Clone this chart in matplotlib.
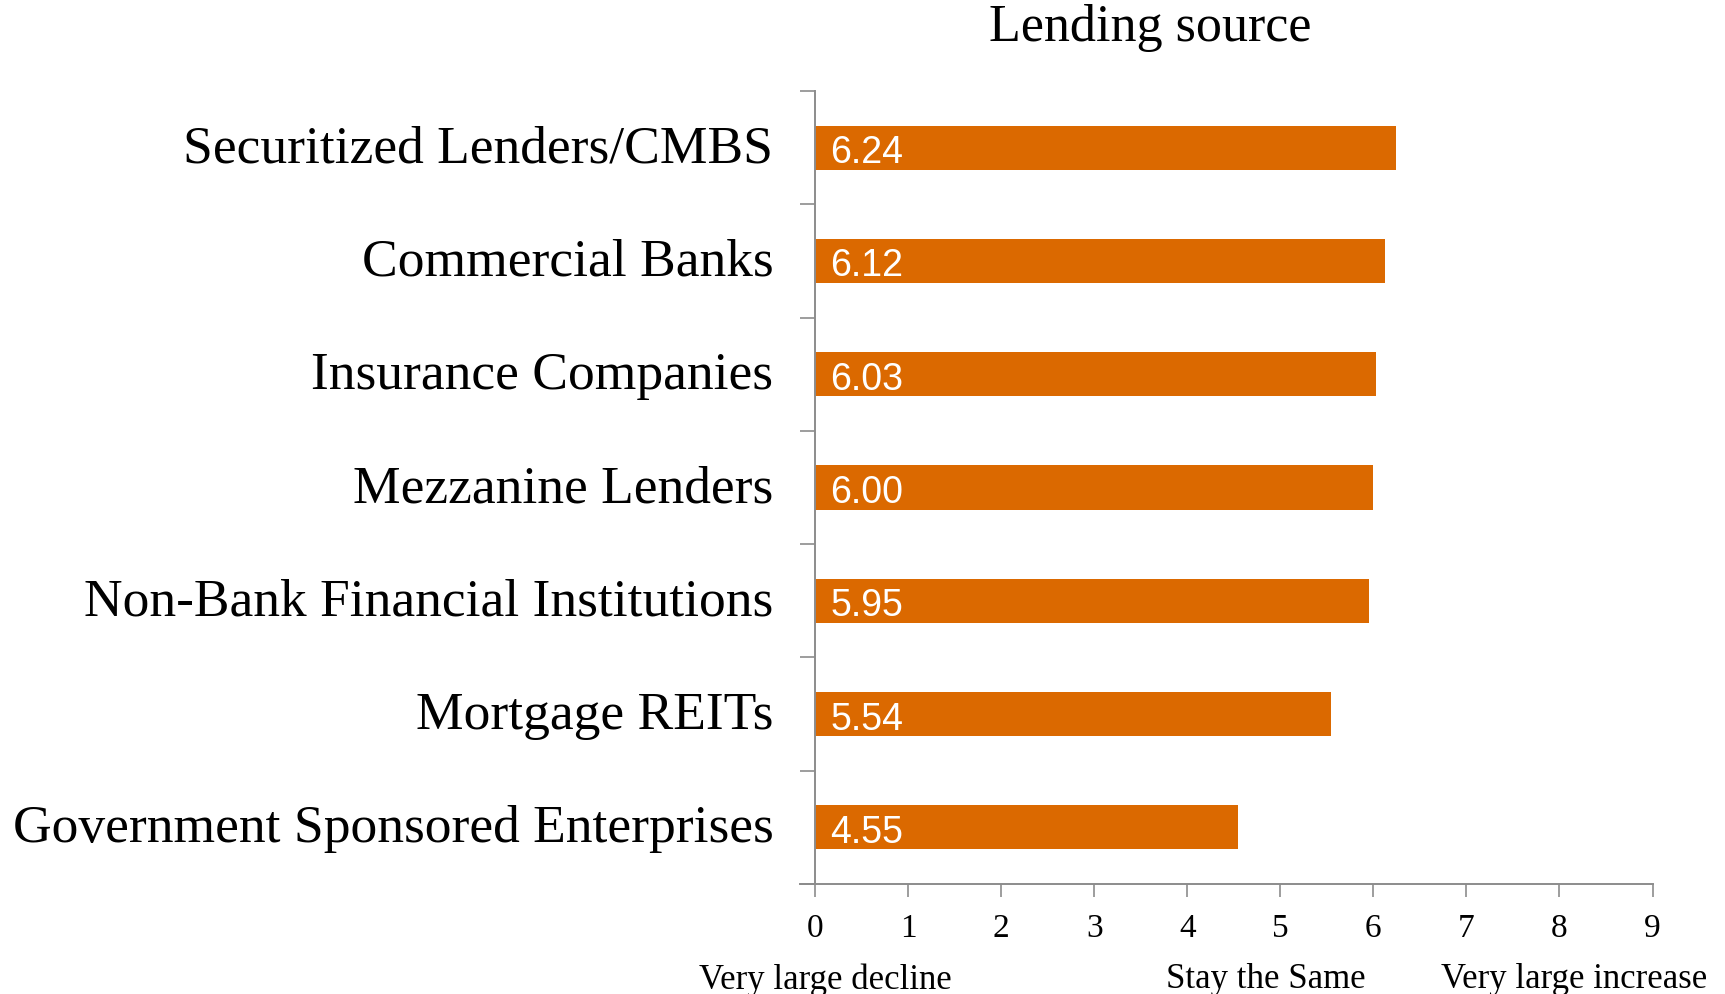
import matplotlib
matplotlib.use("Agg")
import matplotlib.pyplot as plt
import matplotlib.transforms as mtransforms
import numpy as np

categories = [
    "Securitized Lenders/CMBS",
    "Commercial Banks",
    "Insurance Companies",
    "Mezzanine Lenders",
    "Non-Bank Financial Institutions",
    "Mortgage REITs",
    "Government Sponsored Enterprises",
]
values = [6.24, 6.12, 6.03, 6.00, 5.95, 5.54, 4.55]
value_labels = ["6.24", "6.12", "6.03", "6.00", "5.95", "5.54", "4.55"]
x_ticks = list(range(0, 10))
scale_labels = ["Very large decline", "Stay the Same", "Very large increase"]
scale_positions = [0.11, 4.84, 8.16]

SERIF = "Liberation Serif"
SANS = "Liberation Sans"
BAR_COLOR = "#DB6900"
AXIS_COLOR = "#8C8C8C"

fig = plt.figure(figsize=(17.25, 9.94), dpi=100)
ax = fig.add_axes([0.4725, 0.1107, 0.4855, 0.7978])

y = np.arange(len(categories))
ax.barh(y, values, height=0.39, color=BAR_COLOR, zorder=2)

ax.set_xlim(0, 9)
ax.set_ylim(len(categories) - 0.5, -0.5)

for yi, lab in zip(y, value_labels):
    ax.annotate(lab, xy=(0, yi), xytext=(11, -4), textcoords="offset points",
                ha="left", va="center", color="white", fontsize=27,
                family=SANS, zorder=3)

# category labels as major ticks, slot boundaries as minor ticks
ax.set_yticks(y)
ax.set_yticklabels(categories, family=SERIF, fontsize=38.5, color="black")
ax.set_yticks(np.arange(-0.5, len(categories), 1.0), minor=True)
ax.tick_params(axis="y", which="major", length=0, pad=30)
ax.tick_params(axis="y", which="minor", length=10.8, width=1.2,
               color=AXIS_COLOR, direction="out")
lift = mtransforms.ScaledTranslation(0, 2.5 / 72, fig.dpi_scale_trans)
for t in ax.get_yticklabels():
    t.set_transform(t.get_transform() + lift)

ax.set_xticks(x_ticks)
ax.set_xticklabels([str(t) for t in x_ticks], family=SERIF, fontsize=24)
ax.tick_params(axis="x", length=9, width=1.2, color=AXIS_COLOR,
               direction="out", pad=12)

for side in ["top", "right"]:
    ax.spines[side].set_visible(False)
for side in ["left", "bottom"]:
    ax.spines[side].set_color(AXIS_COLOR)
    ax.spines[side].set_linewidth(1.4)

# extend the baseline a little to the left of zero
ax.plot([-0.16, 0], [len(categories) - 0.5, len(categories) - 0.5],
        color=AXIS_COLOR, lw=1.4, clip_on=False, zorder=1)

fig.text(0.667, 0.972, "Lending source", family=SERIF, fontsize=37.5,
         ha="center", va="center")

for lab, pos in zip(scale_labels, scale_positions):
    ax.text(pos, -0.121, lab, transform=ax.get_xaxis_transform(),
            ha="center", va="center", family=SERIF, fontsize=25)

fig.savefig("out.png", dpi=100, facecolor="white")
